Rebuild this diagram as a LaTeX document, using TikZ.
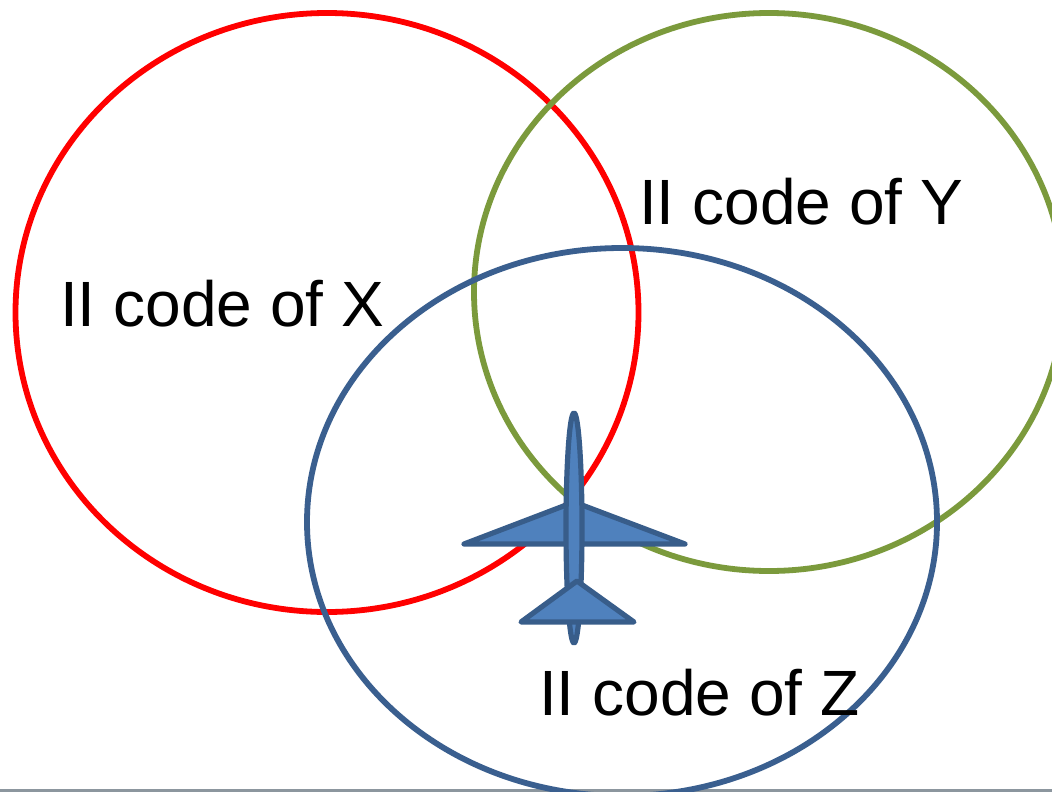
\documentclass[tikz,border=0pt]{standalone}
\usepackage{fontspec}
\setmainfont{Liberation Sans}
\definecolor{redc}{HTML}{FF0000}
\definecolor{greenc}{HTML}{7B9A3C}
\definecolor{bluec}{HTML}{3A5F8F}
\definecolor{planefill}{HTML}{4F81BD}
\definecolor{planeline}{HTML}{385D8A}
\definecolor{rulec}{HTML}{8C969E}
\tikzset{
  ring/.style={line width=5.8pt},
  planepart/.style={fill=planefill,draw=planeline,line width=5.2pt,line join=round},
  lab/.style={anchor=base west,inner sep=0pt,text=black,font=\fontsize{64}{72}\selectfont}
}
\begin{document}
\begin{tikzpicture}[x=1pt,y=-1pt]
\useasboundingbox (0,0) rectangle (1052,792);
\clip (0,0) rectangle (1052,792);
\fill[white] (0,0) rectangle (1052,792);
\fill[rulec] (0,789) rectangle (1052,792);
\draw[ring,redc] (327,312.5) ellipse [x radius=311.5,y radius=299.5];
\draw[ring,greenc] (769,292) ellipse [x radius=295,y radius=279];
\draw[ring,bluec] (622,522) ellipse [x radius=315,y radius=274];
\draw[planepart] (464,544) -- (574,502) -- (685,544) -- cycle;
\draw[planepart] (574,528) ellipse [x radius=8,y radius=115];
\draw[planepart] (521,622) -- (577,581) -- (634,622) -- cycle;
\node[lab] (x) at (60,326) {II code of X};
\node[lab] (y) at (639,224) {II code of Y};
\node[lab] (z) at (539,715) {II code of Z};
\end{tikzpicture}
\end{document}
